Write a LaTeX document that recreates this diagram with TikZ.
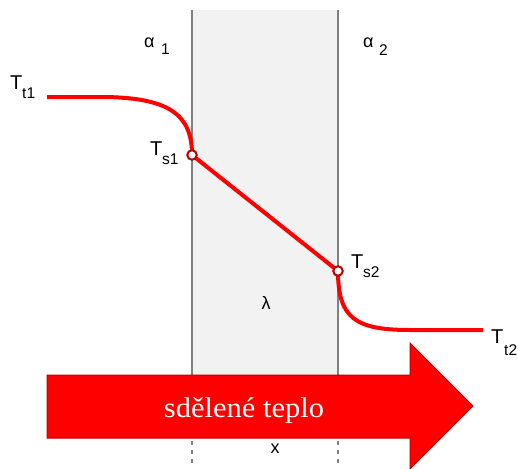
\documentclass[tikz,border=0pt]{standalone}
\usepackage{fontspec}
\setmainfont{Liberation Serif}
\newfontfamily\lsans{Liberation Sans}
\definecolor{slabfill}{HTML}{F2F2F2}
\definecolor{slabline}{HTML}{808080}
\definecolor{darkred}{HTML}{C00000}
\begin{document}
\begin{tikzpicture}[x=1pt,y=-1pt,
  wall/.style={draw=slabline,line width=2.5pt},
  wallcut/.style={draw=slabline,line width=2pt,dash pattern=on 4pt off 5pt},
  tcurve/.style={draw=red,line width=4pt},
  pt/.style={circle,draw=darkred,fill=white,line width=2pt,minimum size=9.5pt,inner sep=0pt},
  lbl/.style={font=\lsans\fontsize{20}{20}\selectfont,inner sep=0pt,anchor=base west},
  sublbl/.style={font=\lsans\fontsize{15.5}{15.5}\selectfont,inner sep=0pt,anchor=base west},
  greek/.style={font=\lsans\fontsize{18}{18}\selectfont,inner sep=0pt,anchor=base west},
  small/.style={font=\lsans\fontsize{18}{18}\selectfont,inner sep=0pt},
  heat/.style={fill=red,draw=darkred,line width=1pt}]
\useasboundingbox (0,0) rectangle (518,468);
% slab
\fill[slabfill] (192,10) rectangle (338,380);
\coordinate (w1t) at (192,10);
\coordinate (w1b) at (192,380);
\coordinate (w2t) at (338,10);
\coordinate (w2b) at (338,380);
\draw[wall] (w1t) -- (w1b);
\draw[wall] (w2t) -- (w2b);
\coordinate (d1t) at (192,441);
\coordinate (d1b) at (192,465);
\coordinate (d2t) at (338,441);
\coordinate (d2b) at (338,465);
\draw[wallcut] (d1t) -- (d1b);
\draw[wallcut] (d2t) -- (d2b);
% temperature curve
\coordinate (tt1) at (47,97);
\coordinate (tt1a) at (100,97);
\coordinate (ts1) at (192,155);
\coordinate (ts2) at (338,271);
\coordinate (tt2a) at (410,330);
\coordinate (tt2) at (483,330);
\draw[tcurve] (tt1) -- (tt1a) .. controls (170,97) and (192,115) .. (ts1)
  -- (ts2) .. controls (338,318) and (355,330) .. (tt2a) -- (tt2);
\node[pt] (p1) at (ts1) {};
\node[pt] (p2) at (ts2) {};
% heat arrow
\draw[heat] (47,375) -- (410,375) -- (410,343) -- (473,406) -- (410,469) -- (410,438) -- (47,438) -- cycle;
\node[text=white,inner sep=0pt,anchor=base] (heattext) at (244,417)
  {\fontsize{28.5}{28.5}\selectfont\scalebox{1.07}[1]{sdělené teplo}};
% labels
\node[lbl] (Tt1) at (10,89) {T};
\node[sublbl] (Tt1s) at (22,98) {t1};
\node[lbl] (Ts1) at (150,155) {T};
\node[sublbl] (Ts1s) at (162,164) {s1};
\node[lbl] (Ts2) at (351,268) {T};
\node[sublbl] (Ts2s) at (363,277) {s2};
\node[lbl] (Tt2) at (491,343) {T};
\node[sublbl] (Tt2s) at (504,355) {t2};
\node[greek] (a1) at (144,48) {α};
\node[sublbl] (a1s) at (161,55) {1};
\node[greek] (a2) at (363,48) {α};
\node[sublbl] (a2s) at (379,56) {2};
\node[small] (lam) at (266,303) {λ};
\node[small] (xx) at (275,449) {x};
\end{tikzpicture}
\end{document}
